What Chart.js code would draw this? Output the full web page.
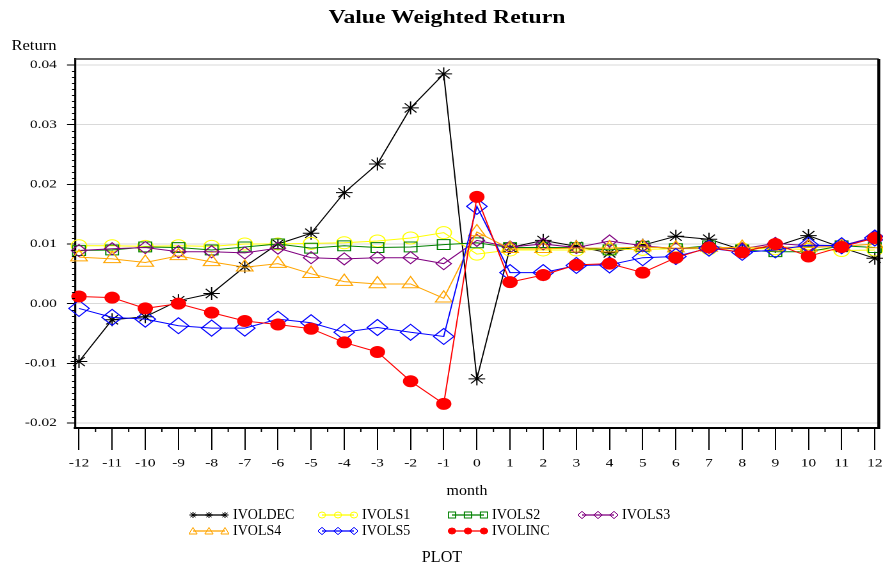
<!DOCTYPE html>
<html><head><meta charset="utf-8">
<script src="https://cdn.jsdelivr.net/npm/chart.js@4.4.1/dist/chart.umd.min.js"></script>
<style>
html,body{margin:0;padding:0;background:#fff;overflow:hidden;}
#page{position:relative;width:883px;height:567px;overflow:hidden;font-family:'Liberation Serif','Times New Roman',serif;}
#stretch{position:absolute;left:0;top:0;width:690px;height:567px;transform-origin:0 0;transform:scaleX(1.27971);}
.t{position:absolute;white-space:nowrap;line-height:1;color:#000;}
</style></head><body>
<div id="page">
<div id="stretch"><canvas id="c"></canvas></div>
</div>
<script>
// ---- data ----
const months = [-12,-11,-10,-9,-8,-7,-6,-5,-4,-3,-2,-1,0,1,2,3,4,5,6,7,8,9,10,11,12];
const yTicks = [-0.02,-0.01,0.00,0.01,0.02,0.03,0.04];
const seriesNames = ['IVOLDEC','IVOLS1','IVOLS2','IVOLS3','IVOLS4','IVOLS5','IVOLINC'];
const IVOLDEC = [-0.0097,-0.0027,-0.0022,0.0005,0.0017,0.0062,0.0100,0.0118,0.0186,0.0234,0.0328,0.0385,-0.0126,0.0094,0.0106,0.0096,0.0085,0.0098,0.0113,0.0108,0.0090,0.0096,0.0114,0.0094,0.0076];
const IVOLS1  = [0.0097,0.0097,0.0096,0.0097,0.0096,0.0100,0.0100,0.0101,0.0102,0.0105,0.0110,0.0119,0.0083,0.0090,0.0090,0.0090,0.0091,0.0091,0.0092,0.0092,0.0092,0.0092,0.0091,0.0089,0.0090];
const IVOLS2  = [0.0089,0.0090,0.0095,0.0094,0.0090,0.0095,0.0100,0.0093,0.0097,0.0094,0.0095,0.0099,0.0102,0.0094,0.0094,0.0094,0.0090,0.0096,0.0092,0.0097,0.0090,0.0087,0.0087,0.0097,0.0094];
const IVOLS3  = [0.0089,0.0092,0.0094,0.0087,0.0087,0.0085,0.0093,0.0077,0.0075,0.0077,0.0077,0.0067,0.0106,0.0095,0.0100,0.0094,0.0105,0.0097,0.0092,0.0094,0.0092,0.0101,0.0097,0.0097,0.0112];
const IVOLS4  = [0.0078,0.0075,0.0069,0.0080,0.0070,0.0061,0.0067,0.0050,0.0037,0.0033,0.0033,0.0009,0.0120,0.0092,0.0092,0.0093,0.0093,0.0095,0.0093,0.0094,0.0094,0.0095,0.0094,0.0096,0.0100];
const IVOLS5  = [-0.0008,-0.0023,-0.0026,-0.0037,-0.0041,-0.0041,-0.0026,-0.0032,-0.0048,-0.0040,-0.0048,-0.0055,0.0163,0.0052,0.0052,0.0064,0.0065,0.0077,0.0079,0.0093,0.0086,0.0090,0.0098,0.0097,0.0110];
const IVOLINC = [0.0012,0.0010,-0.0008,0.0000,-0.0015,-0.0029,-0.0035,-0.0042,-0.0065,-0.0081,-0.0130,-0.0168,0.0179,0.0036,0.0048,0.0065,0.0067,0.0052,0.0077,0.0094,0.0086,0.0100,0.0079,0.0095,0.0110];
const seriesValues = [IVOLDEC,IVOLS1,IVOLS2,IVOLS3,IVOLS4,IVOLS5,IVOLINC];

// ---- styles ----
const styles = [
  {color:'#000000', point:'star',     r:6.5, fill:false},
  {color:'#FFFF00', point:'circle',   r:6,   fill:false},
  {color:'#008000', point:'rect',     r:7,   fill:false},
  {color:'#800080', point:'rectRot',  r:6,   fill:false},
  {color:'#FFA500', point:'triangle', r:7.5, fill:false},
  {color:'#0000FF', point:'rectRot',  r:8,   fill:false},
  {color:'#FF0000', point:'circle',   r:5.5, fill:true}
];

const datasets = seriesNames.map((name,i)=>({
  label:name,
  data: months.map((m,j)=>({x:m,y:seriesValues[i][j]})),
  borderColor: styles[i].color,
  borderWidth: 1,
  pointStyle: styles[i].point,
  pointRadius: styles[i].r,
  pointHoverRadius: styles[i].r,
  pointBorderWidth: 1,
  pointBorderColor: styles[i].color,
  pointBackgroundColor: styles[i].fill ? styles[i].color : 'rgba(0,0,0,0)',
  tension: 0,
  fill: false,
  clip: false,
  order: seriesNames.length - i
}));

const extras = {
  id:'extras',
  afterDraw(chart){
    const {ctx, chartArea:a, scales:{x,y}} = chart;
    ctx.save();
    ctx.strokeStyle='#000'; ctx.lineWidth=1;
    ctx.beginPath();
    for (let k=-20;k<=40;k++){
      if (k%10===0) continue;
      const py = Math.round(y.getPixelForValue(k/1000))+0.5;
      ctx.moveTo(a.left-2.4,py); ctx.lineTo(a.left,py);
    }
    for (let k=-12;k<12;k++){
      const px = x.getPixelForValue(k+0.5);
      ctx.moveTo(px,a.bottom); ctx.lineTo(px,a.bottom+4);
    }
    ctx.stroke();
    ctx.strokeStyle='#333'; ctx.lineWidth=1.5;
    ctx.beginPath(); ctx.moveTo(a.left,a.top); ctx.lineTo(a.right,a.top); ctx.stroke();
    ctx.strokeStyle='#000'; ctx.lineWidth=2.3;
    ctx.beginPath(); ctx.moveTo(a.right,a.top); ctx.lineTo(a.right,a.bottom+1); ctx.stroke();
    ctx.restore();
  }
};

new Chart(document.getElementById('c'), {
  type:'line',
  data:{datasets},
  plugins:[extras],
  options:{
    responsive:true, maintainAspectRatio:false, animation:false,
    devicePixelRatio:2,
    layout:{autoPadding:false, padding:{top:59,right:3.3,bottom:0,left:0}},
    plugins:{legend:{display:false}, title:{display:false}, tooltip:{enabled:false}},
    scales:{
      x:{
        type:'linear', min:-12.12, max:12.12,
        afterBuildTicks:(s)=>{ s.ticks = months.map(v=>({value:v})); },
        afterFit:(s)=>{ s.height = 139; s.paddingLeft = 0; s.paddingRight = 0; },
        grid:{drawOnChartArea:false, tickColor:'#000', tickLength:22, lineWidth:1},
        border:{color:'#000', width:2},
        ticks:{color:'#000', padding:6, maxRotation:0, autoSkip:false,
          font:{family:"'Liberation Serif', serif", size:12},
          callback:(v)=>String(v)}
      },
      y:{
        type:'linear', min:-0.02084, max:0.041,
        afterBuildTicks:(s)=>{ s.ticks = yTicks.map(v=>({value:v})); },
        afterFit:(s)=>{ s.width = 58.6; s.paddingTop = 0; s.paddingBottom = 0; },
        grid:{color:'#d9d9d9', lineWidth:1, tickColor:'#000', tickLength:6.25},
        border:{color:'#000', width:1.6},
        ticks:{color:'#000', padding:8, autoSkip:false,
          font:{family:"'Liberation Serif', serif", size:12},
          callback:(v)=>Number(v).toFixed(2)}
      }
    }
  }
});

// ---- text and legend (HTML) ----
const page = document.getElementById('page');
function addText(txt, cx, cy, size, bold, targetW){
  const d = document.createElement('div');
  d.className='t'; d.textContent = txt;
  d.style.left = cx+'px'; d.style.top = cy+'px';
  d.style.fontSize = size+'px';
  if (bold) d.style.fontWeight='bold';
  page.appendChild(d);
  const k = targetW ? targetW / d.offsetWidth : 1;
  d.style.transform = 'translate(-50%,-50%) scaleX('+k+')';
  return d;
}
addText('Value Weighted Return', 447, 17, 18, true, 237);
addText('Return', 34.2, 46, 14, false, 45);
addText('month', 467, 491, 14, false, 41);
addText('PLOT', 442, 557, 16, false, 40.3);

function markerSVG(st, cx, cy){
  const c = st.color, f = st.fill ? c : 'none';
  const rx = 3.6, ry = 3;
  switch(st.point){
    case 'star': return `<g stroke="${c}" stroke-width="1"><line x1="${cx-rx}" y1="${cy}" x2="${cx+rx}" y2="${cy}"/><line x1="${cx}" y1="${cy-ry}" x2="${cx}" y2="${cy+ry}"/><line x1="${cx-rx*0.7}" y1="${cy-ry*0.7}" x2="${cx+rx*0.7}" y2="${cy+ry*0.7}"/><line x1="${cx-rx*0.7}" y1="${cy+ry*0.7}" x2="${cx+rx*0.7}" y2="${cy-ry*0.7}"/></g>`;
    case 'circle': return `<ellipse cx="${cx}" cy="${cy}" rx="${rx}" ry="${ry}" fill="${f}" stroke="${c}"/>`;
    case 'rect': return `<rect x="${cx-rx}" y="${cy-ry}" width="${2*rx}" height="${2*ry}" fill="${f}" stroke="${c}"/>`;
    case 'rectRot': return `<polygon points="${cx-rx-0.6},${cy} ${cx},${cy-ry-0.6} ${cx+rx+0.6},${cy} ${cx},${cy+ry+0.6}" fill="${f}" stroke="${c}"/>`;
    case 'triangle': return `<polygon points="${cx-rx-0.5},${cy+ry} ${cx+rx+0.5},${cy+ry} ${cx},${cy-ry-0.5}" fill="${f}" stroke="${c}"/>`;
  }
  return '';
}
const colX = [193, 322, 452, 582];
const rowY = [515, 531];
seriesNames.forEach((name,i)=>{
  const col = i<4 ? i : i-4, row = i<4 ? 0 : 1;
  const st = styles[i];
  const sx = colX[col], sy = rowY[row];
  const svg = document.createElementNS('http://www.w3.org/2000/svg','svg');
  svg.setAttribute('width','40'); svg.setAttribute('height','14');
  svg.style.position='absolute'; svg.style.left=(sx-4)+'px'; svg.style.top=(sy-7)+'px';
  let inner = `<line x1="4" y1="7" x2="36" y2="7" stroke="${st.color}" stroke-width="1.3"/>`;
  [4,20,36].forEach(px=>{ inner += markerSVG(st, px, 7); });
  svg.innerHTML = inner;
  page.appendChild(svg);
  const d = document.createElement('div');
  d.className='t'; d.textContent=name; d.style.fontSize='14px';
  d.style.left=(sx+40)+'px'; d.style.top=(sy-7)+'px';
  page.appendChild(d);
});
</script>
</body></html>
